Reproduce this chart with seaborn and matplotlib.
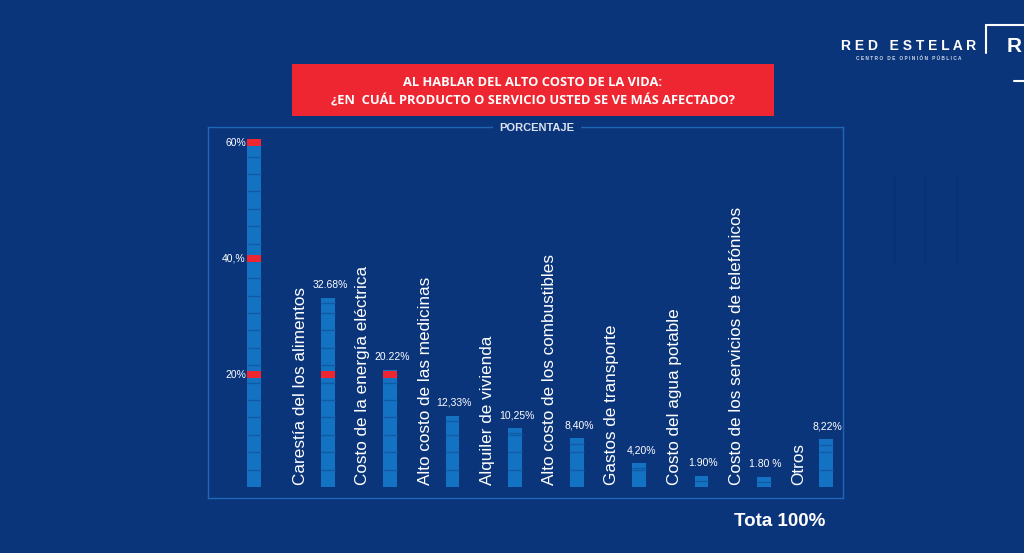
import numpy as np
import pandas as pd
import matplotlib
matplotlib.use("Agg")
import matplotlib.pyplot as plt
from matplotlib.patches import Rectangle
from matplotlib.lines import Line2D
import seaborn as sns

# ---- data ----
categories = [
    "Carestía del los alimentos",
    "Costo de la energía eléctrica",
    "Alto costo de las medicinas",
    "Alquiler de vivienda",
    "Alto costo de los combustibles",
    "Gastos de transporte",
    "Costo del agua potable",
    "Costo de los servicios de telefónicos",
    "Otros",
]
values = [32.68, 20.22, 12.33, 10.25, 8.40, 4.20, 1.90, 1.80, 8.22]
value_labels = ["32.68%", "20.22%", "12,33%", "10,25%", "8,40%", "4,20%", "1.90%", "1.80 %", "8,22%"]
scale_max = 60
scale_ticks = [20, 40, 60]
scale_tick_labels = ["20%", "40,%", "60%"]

title_lines = ["AL HABLAR DEL ALTO COSTO DE LA VIDA:",
               "¿EN  CUÁL PRODUCTO O SERVICIO USTED SE VE MÁS AFECTADO?"]

# ---- style ----
BG = "#0B357B"
BAR = "#1472C2"
SEG = "#0F5BA6"
RED = "#EE2631"
FRAME = "#2066B6"
W, H = 1024, 553
SCALE_SHIFT = -0.19  # the reference scale bar sits a bit left of the regular grid

sns.set_theme(style="white")
plt.rcParams["font.family"] = ["Liberation Sans", "DejaVu Sans"]

fig = plt.figure(figsize=(W / 100, H / 100), dpi=100)
fig.patch.set_facecolor(BG)

ax = fig.add_axes([208 / W, (H - 498) / H, 635 / W, 371 / H])
ax.set_facecolor(BG)

names = ["escala"] + categories
all_vals = [scale_max] + values
df = pd.DataFrame({"categoria": names, "valor": all_vals})
bw = 0.22
sns.barplot(data=df, x="categoria", y="valor", order=names, color=BAR,
            saturation=1, width=bw, ax=ax, errorbar=None, linewidth=0)

# shift the scale bar slightly left
p0 = ax.patches[0]
p0.set_x(p0.get_x() + SCALE_SHIFT)

ax.set_xlim(-0.928, 9.273)
ax.set_ylim(-1.9, 62.1)
ax.set_xlabel("")
ax.set_ylabel("")
ax.set_xticks([])
ax.set_yticks([])
for s in ax.spines.values():
    s.set_color(FRAME)
    s.set_linewidth(1.0)

# segment separators and red marks
for i, v in enumerate(all_vals):
    xc = i + (SCALE_SHIFT if i == 0 else 0)
    for yy in np.arange(3, v - 0.5, 3):
        ax.hlines(yy, xc - bw / 2, xc + bw / 2, color=SEG, lw=1.0, zorder=3)
    ax.hlines(v - 0.9, xc - bw / 2, xc + bw / 2, color=SEG, lw=1.0, zorder=3)
    for m in scale_ticks:
        if m <= v + 0.3:
            ax.add_patch(Rectangle((xc - bw / 2, m - 1.2), bw, 1.2, color=RED, lw=0, zorder=4))

# scale labels
for m, lab in zip(scale_ticks, scale_tick_labels):
    ax.text(SCALE_SHIFT - 0.13, m - 0.6, lab, color="white", fontsize=7.5,
            ha="right", va="center")

# value labels and category labels
for k, (v, lab, cat) in enumerate(zip(values, value_labels, categories)):
    i = k + 1
    ax.text(i + 0.03, v + 1.3, lab, color="white", fontsize=7.5, ha="center", va="bottom")
    ax.text(i - 0.44, 0.3, cat, color="white", fontsize=12.3, rotation=90,
            ha="center", va="bottom")

# PORCENTAJE label
fig.text(537 / W, 1 - 128 / H, "PORCENTAJE", color="#DCE3EF", fontsize=8, fontweight="bold",
         ha="center", va="center",
         bbox=dict(facecolor=BG, edgecolor="none", pad=5))

# title box
fig.patches.append(Rectangle((292 / W, 1 - 116 / H), 482 / W, 52 / H,
                             transform=fig.transFigure, color=RED, lw=0))
fig.text(533 / W, 1 - 82 / H, title_lines[0], color="white", fontsize=9.3, fontweight="bold",
         family=["Open Sans", "DejaVu Sans"], ha="center", va="center")
fig.text(533 / W, 1 - 101 / H, title_lines[1], color="white", fontsize=9.3, fontweight="bold",
         family=["Open Sans", "DejaVu Sans"], ha="center", va="center")

# total
fig.text(780 / W, 1 - 521 / H, "Tota 100%", color="white", fontsize=13.5, fontweight="bold",
         ha="center", va="center")

# logo
fig.text(909 / W, 1 - 46 / H, "R E D   E S T E L A R", color="white", fontsize=10,
         fontweight="bold", ha="center", va="center")
fig.text(909 / W, 1 - 58 / H, "C E N T R O   D E   O P I N I Ó N   P Ú B L I C A",
         color="#cfd8ea", fontsize=3.4, fontweight="bold", ha="center", va="center")
fig.lines.append(Line2D([986 / W, 986 / W], [1 - 25 / H, 1 - 53 / H],
                        transform=fig.transFigure, color="white", lw=1.5))
fig.lines.append(Line2D([986 / W, 1.0], [1 - 25 / H, 1 - 25 / H],
                        transform=fig.transFigure, color="white", lw=1.5))
fig.lines.append(Line2D([1014 / W, 1.0], [1 - 81 / H, 1 - 81 / H],
                        transform=fig.transFigure, color="white", lw=1.5))
fig.text(1014 / W, 1 - 47 / H, "R", color="white", fontsize=15, fontweight="bold",
         ha="center", va="center")

# faint vertical lines
for xx in [894, 925, 957]:
    fig.lines.append(Line2D([xx / W, xx / W], [1 - 175 / H, 1 - 263 / H],
                            transform=fig.transFigure, color="#08306F", lw=1.0))

fig.savefig("out.png", dpi=100, facecolor=BG)
